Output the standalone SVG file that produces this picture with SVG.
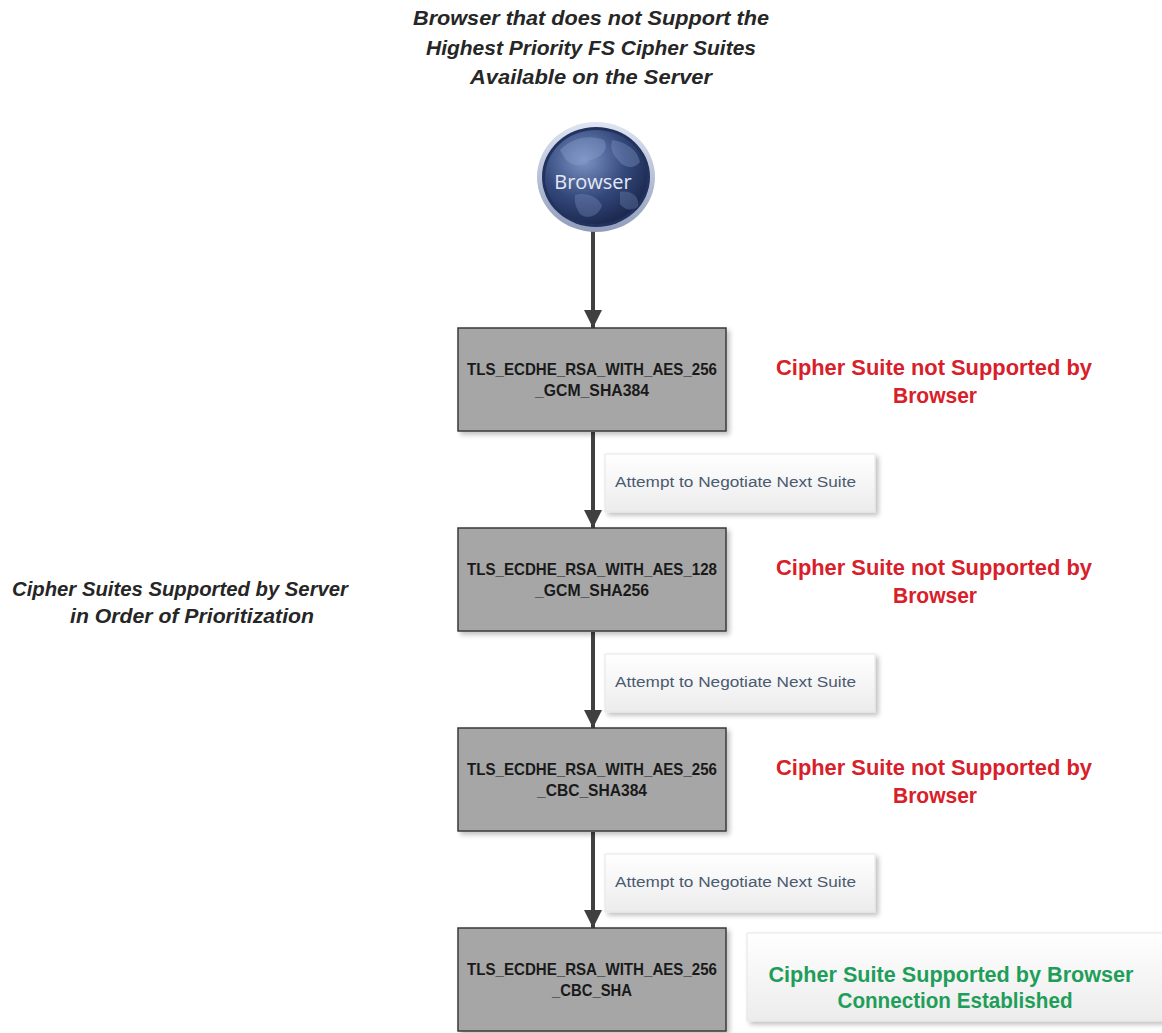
<svg xmlns="http://www.w3.org/2000/svg" width="1162" height="1033" viewBox="0 0 1162 1033">
<style>
.title{font-family:"Liberation Sans",Arial,sans-serif;font-weight:bold;font-style:italic;font-size:21px;fill:#262626;text-anchor:middle}
.box{fill:#a6a6a6;stroke:#3a3a3a;stroke-width:1.5}
.boxt{font-family:"Liberation Sans",Arial,sans-serif;font-weight:bold;font-size:16.5px;fill:#1a1a1a;text-anchor:middle}
.lbl{fill:url(#lblg);stroke:#e6e6e6;stroke-width:1}
.lblt{font-family:"Liberation Sans",Arial,sans-serif;font-size:14px;fill:#4a5a70}
.red{font-family:"Liberation Sans",Arial,sans-serif;font-weight:bold;font-size:22px;fill:#d8202a;text-anchor:middle}
.green{font-family:"Liberation Sans",Arial,sans-serif;font-weight:bold;font-size:22px;fill:#1f9e5a;text-anchor:middle}
.conn{stroke:#404040;stroke-width:4;fill:none}
</style>
<defs>
<linearGradient id="lblg" x1="0" y1="0" x2="0" y2="1">
<stop offset="0" stop-color="#ffffff"/>
<stop offset="1" stop-color="#ececec"/>
</linearGradient>
<filter id="sh" x="-10%" y="-10%" width="130%" height="140%">
<feGaussianBlur in="SourceAlpha" stdDeviation="2.5"/>
<feOffset dx="3" dy="3" result="b"/>
<feComponentTransfer><feFuncA type="linear" slope="0.25"/></feComponentTransfer>
<feMerge><feMergeNode/><feMergeNode in="SourceGraphic"/></feMerge>
</filter>
<radialGradient id="globeg" cx="0.38" cy="0.32" r="0.75">
<stop offset="0" stop-color="#7d94c4"/>
<stop offset="0.55" stop-color="#34487c"/>
<stop offset="1" stop-color="#182448"/>
</radialGradient>
<linearGradient id="rimg" x1="0" y1="0" x2="0" y2="1">
<stop offset="0" stop-color="#dfe5f2"/>
<stop offset="1" stop-color="#8f9cbb"/>
</linearGradient>
<marker id="arr" markerUnits="userSpaceOnUse" markerWidth="18" markerHeight="22" refX="18" refY="9" orient="auto">
<path d="M0,0 L18,9 L0,18 Z" fill="#404040"/>
</marker>
</defs>
<rect width="1162" height="1033" fill="#ffffff"/>

<g id="title">
<text class="title" x="591" y="25" textLength="356" lengthAdjust="spacingAndGlyphs">Browser that does not Support the</text>
<text class="title" x="591" y="55" textLength="330" lengthAdjust="spacingAndGlyphs">Highest Priority FS Cipher Suites</text>
<text class="title" x="591" y="84" textLength="242" lengthAdjust="spacingAndGlyphs">Available on the Server</text>
</g>

<g id="left-label">
<text class="title" x="180" y="596" textLength="336" lengthAdjust="spacingAndGlyphs">Cipher Suites Supported by Server</text>
<text class="title" x="192" y="623" textLength="244" lengthAdjust="spacingAndGlyphs">in Order of Prioritization</text>
</g>

<g id="connectors">
<line class="conn" x1="593" y1="226" x2="593" y2="328" marker-end="url(#arr)"/>
<line class="conn" x1="593" y1="432" x2="593" y2="528" marker-end="url(#arr)"/>
<line class="conn" x1="593" y1="632" x2="593" y2="728" marker-end="url(#arr)"/>
<line class="conn" x1="593" y1="832" x2="593" y2="928" marker-end="url(#arr)"/>
</g>

<g id="browser">
<ellipse cx="596" cy="177" rx="59" ry="55" fill="url(#rimg)"/>
<ellipse cx="596" cy="177" rx="54" ry="50" fill="#22325e"/>
<ellipse cx="596" cy="177" rx="51" ry="47" fill="url(#globeg)"/>
<path d="M560,150 C572,138 590,134 604,140 C610,150 600,158 590,160 C582,168 572,166 566,160 Z" fill="#8aa0cc" opacity="0.4"/>
<path d="M612,140 C626,142 638,150 640,162 C634,170 624,168 618,160 C612,154 610,148 612,140 Z" fill="#8aa0cc" opacity="0.35"/>
<path d="M575,195 C585,192 598,196 602,206 C598,216 588,220 580,214 C576,208 574,202 575,195 Z" fill="#8aa0cc" opacity="0.3"/>
<path d="M620,192 C630,190 640,196 638,206 C632,212 624,210 620,204 Z" fill="#8aa0cc" opacity="0.28"/>
<text x="593" y="189" font-family="'Open Sans','Liberation Sans',sans-serif" font-size="20" fill="#e4e9f3" text-anchor="middle">Browser</text>
</g>

<g id="suite1">
<rect class="box" x="458" y="328" width="268" height="103" filter="url(#sh)"/>
<text class="boxt" x="592" y="375" textLength="250" lengthAdjust="spacingAndGlyphs">TLS_ECDHE_RSA_WITH_AES_256</text>
<text class="boxt" x="592" y="396" textLength="114" lengthAdjust="spacingAndGlyphs">_GCM_SHA384</text>
</g>
<g id="suite2">
<rect class="box" x="458" y="528" width="268" height="103" filter="url(#sh)"/>
<text class="boxt" x="592" y="575" textLength="250" lengthAdjust="spacingAndGlyphs">TLS_ECDHE_RSA_WITH_AES_128</text>
<text class="boxt" x="592" y="596" textLength="114" lengthAdjust="spacingAndGlyphs">_GCM_SHA256</text>
</g>
<g id="suite3">
<rect class="box" x="458" y="728" width="268" height="103" filter="url(#sh)"/>
<text class="boxt" x="592" y="775" textLength="250" lengthAdjust="spacingAndGlyphs">TLS_ECDHE_RSA_WITH_AES_256</text>
<text class="boxt" x="592" y="796" textLength="110" lengthAdjust="spacingAndGlyphs">_CBC_SHA384</text>
</g>
<g id="suite4">
<rect class="box" x="458" y="928" width="268" height="103" filter="url(#sh)"/>
<text class="boxt" x="592" y="975" textLength="250" lengthAdjust="spacingAndGlyphs">TLS_ECDHE_RSA_WITH_AES_256</text>
<text class="boxt" x="592" y="996" textLength="80" lengthAdjust="spacingAndGlyphs">_CBC_SHA</text>
</g>

<g id="attempt1">
<rect class="lbl" x="605" y="454" width="270" height="58" filter="url(#sh)"/>
<text class="lblt" x="615" y="487" textLength="241" lengthAdjust="spacingAndGlyphs">Attempt to Negotiate Next Suite</text>
</g>
<g id="attempt2">
<rect class="lbl" x="605" y="654" width="270" height="58" filter="url(#sh)"/>
<text class="lblt" x="615" y="687" textLength="241" lengthAdjust="spacingAndGlyphs">Attempt to Negotiate Next Suite</text>
</g>
<g id="attempt3">
<rect class="lbl" x="605" y="854" width="270" height="58" filter="url(#sh)"/>
<text class="lblt" x="615" y="887" textLength="241" lengthAdjust="spacingAndGlyphs">Attempt to Negotiate Next Suite</text>
</g>

<g id="status1">
<text class="red" x="934" y="375" textLength="316" lengthAdjust="spacingAndGlyphs">Cipher Suite not Supported by</text>
<text class="red" x="935" y="403" textLength="84" lengthAdjust="spacingAndGlyphs">Browser</text>
</g>
<g id="status2">
<text class="red" x="934" y="575" textLength="316" lengthAdjust="spacingAndGlyphs">Cipher Suite not Supported by</text>
<text class="red" x="935" y="603" textLength="84" lengthAdjust="spacingAndGlyphs">Browser</text>
</g>
<g id="status3">
<text class="red" x="934" y="775" textLength="316" lengthAdjust="spacingAndGlyphs">Cipher Suite not Supported by</text>
<text class="red" x="935" y="803" textLength="84" lengthAdjust="spacingAndGlyphs">Browser</text>
</g>
<g id="status4">
<rect class="lbl" x="747" y="933" width="420" height="88" filter="url(#sh)"/>
<text class="green" x="951" y="982" textLength="365" lengthAdjust="spacingAndGlyphs">Cipher Suite Supported by Browser</text>
<text class="green" x="955" y="1008" textLength="235" lengthAdjust="spacingAndGlyphs">Connection Established</text>
</g>
</svg>
